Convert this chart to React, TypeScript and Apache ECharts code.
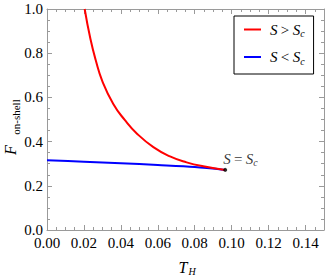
import React, { useEffect, useRef } from "react";
import * as echarts from "echarts";

// T_H values and F_on-shell values
const redT = [0.0204, 0.0235, 0.0264, 0.0299, 0.0359, 0.0422, 0.0486, 0.0576, 0.0666, 0.0756, 0.0846, 0.0965];
const redF = [1.0, 0.865, 0.768, 0.675, 0.57, 0.497, 0.437, 0.375, 0.333, 0.306, 0.288, 0.272];
const blueT = [0.0, 0.02, 0.04, 0.06, 0.08, 0.0965];
const blueF = [0.316, 0.309, 0.302, 0.294, 0.285, 0.272];
const critT = [0.0965];
const critF = [0.272];

const nameAbove = "S > Sc";
const nameBelow = "S < Sc";

const FONT = "Liberation Serif";
const FRAME = "#9a9a9a";

export default function App() {
  const ref = useRef<HTMLDivElement>(null);
  useEffect(() => {
    if (!ref.current) return;
    const chart = echarts.init(ref.current, undefined, { renderer: "svg" });
    const rich = {
      g: { width: 4, fontSize: 15, lineHeight: 18 },
      i: { fontFamily: FONT, fontStyle: "italic", fontSize: 15, lineHeight: 18, color: "#000" },
      n: { fontFamily: FONT, fontSize: 15, lineHeight: 18, color: "#000" },
      c: { fontFamily: FONT, fontStyle: "italic", fontSize: 10, lineHeight: 12, verticalAlign: "bottom", color: "#000" },
    };
    const majorX = (pos: string, labels: boolean) => ({
      type: "value",
      position: pos,
      min: 0,
      max: 0.15,
      interval: 0.02,
      axisLine: { show: true, onZero: false, lineStyle: { color: FRAME, width: 1 } },
      axisTick: { show: true, inside: true, length: 5, lineStyle: { color: FRAME } },
      axisLabel: {
        show: labels,
        showMaxLabel: false,
        margin: 5,
        fontFamily: FONT,
        fontSize: 15,
        color: "#000",
        formatter: (v: number) => v.toFixed(2),
      },
      splitLine: { show: false },
    });
    const minorX = (pos: string) => ({
      type: "value",
      position: pos,
      min: 0,
      max: 0.15,
      interval: 0.005,
      axisLine: { show: false, onZero: false },
      axisTick: { show: true, inside: true, length: 3, lineStyle: { color: FRAME } },
      axisLabel: { show: false },
      splitLine: { show: false },
    });
    const majorY = (pos: string, labels: boolean) => ({
      type: "value",
      position: pos,
      min: 0,
      max: 1,
      interval: 0.2,
      axisLine: { show: true, onZero: false, lineStyle: { color: FRAME, width: 1 } },
      axisTick: { show: true, inside: true, length: 5, lineStyle: { color: FRAME } },
      minorTick: { show: true, splitNumber: 4, length: 3, lineStyle: { color: FRAME } },
      axisLabel: {
        show: labels,
        margin: 4,
        fontFamily: FONT,
        fontSize: 15,
        color: "#000",
        formatter: (v: number) => v.toFixed(1),
      },
      splitLine: { show: false },
    });
    chart.setOption({
      animation: false,
      backgroundColor: "#fff",
      grid: { left: 47, right: 3, top: 9, bottom: 48, containLabel: false },
      xAxis: [majorX("bottom", true), minorX("bottom"), majorX("top", false), minorX("top")],
      yAxis: [majorY("left", true), majorY("right", false)],
      legend: {
        orient: "vertical",
        left: 234,
        top: 16,
        padding: [6, 9, 8, 10],
        itemGap: 11,
        itemWidth: 17,
        itemHeight: 2,
        icon: "rect",
        borderColor: "#000",
        borderWidth: 1,
        backgroundColor: "#fff",
        selectedMode: false,
        data: [nameAbove, nameBelow],
        formatter: (name: string) =>
          name === nameAbove ? "{g|}{i|S} {n|>} {i|S}{c|c}" : "{g|}{i|S} {n|<} {i|S}{c|c}",
        textStyle: { rich },
      },
      series: [
        {
          name: nameAbove,
          type: "line",
          xAxisIndex: 0,
          yAxisIndex: 0,
          smooth: 0.5,
          showSymbol: false,
          color: "#ff0000",
          lineStyle: { color: "#ff0000", width: 2 },
          data: redT.map((t, k) => [t, redF[k]]),
          z: 3,
        },
        {
          name: nameBelow,
          type: "line",
          xAxisIndex: 0,
          yAxisIndex: 0,
          smooth: 0.3,
          showSymbol: false,
          color: "#0000ff",
          lineStyle: { color: "#0000ff", width: 2 },
          data: blueT.map((t, k) => [t, blueF[k]]),
          z: 2,
        },
        {
          name: "critical",
          type: "scatter",
          xAxisIndex: 0,
          yAxisIndex: 0,
          symbolSize: 4,
          itemStyle: { color: "#000" },
          data: critT.map((t, k) => [t, critF[k]]),
          label: {
            show: true,
            position: "right",
            distance: 0,
            offset: [-4, -11],
            color: "#000",
            formatter: "{i|S} {n|=} {i|S}{c|c}",
            rich,
          },
          z: 4,
        },
      ],
      graphic: [
        { type: "text", x: 10, y: 150, rotation: Math.PI / 2, style: { text: "F", fontFamily: FONT, fontStyle: "italic", fontSize: 16, fill: "#000", align: "center", verticalAlign: "middle" } },
        { type: "text", x: 16, y: 117, rotation: Math.PI / 2, style: { text: "on-shell", fontFamily: FONT, fontSize: 11, fill: "#000", align: "center", verticalAlign: "middle" } },
        { type: "text", x: 183, y: 267, style: { text: "T", fontFamily: FONT, fontStyle: "italic", fontSize: 16, fill: "#000", align: "center", verticalAlign: "middle" } },
        { type: "text", x: 192, y: 271, style: { text: "H", fontFamily: FONT, fontStyle: "italic", fontSize: 10, fill: "#000", align: "center", verticalAlign: "middle" } },
      ],
    });
    return () => chart.dispose();
  }, []);
  return <div ref={ref} style={{ position: "absolute", left: 0, top: 0, width: 327, height: 278 }} />;
}
